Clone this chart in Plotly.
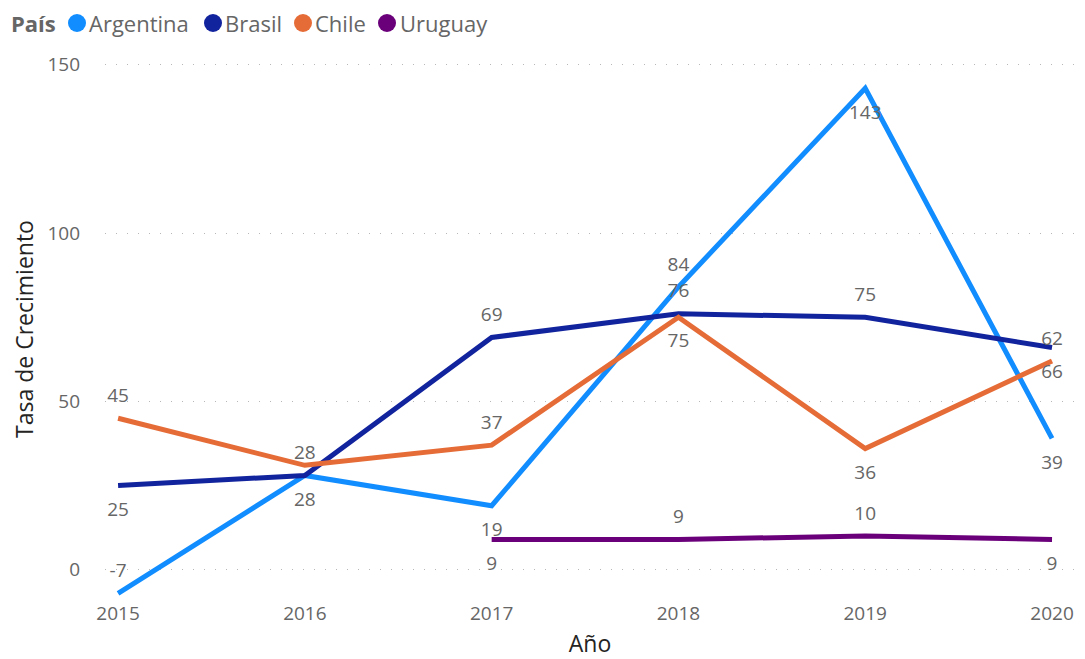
import plotly.graph_objects as go

years = [2015, 2016, 2017, 2018, 2019, 2020]
years_uy = [2017, 2018, 2019, 2020]

argentina = [-7, 28, 19, 84, 143, 39]
brasil = [25, 28, 69, 76, 75, 66]
chile = [45, 31, 37, 75, 36, 62]
uruguay = [9, 9, 10, 9]

arg_text = ["-7", "28", "19", "84", "143", "39"]
bra_text = ["25", "28", "69", "76", "75", "66"]
chi_text = ["45", "", "37", "75", "36", "62"]
uru_text = ["9", "9", "10", "9"]

arg_pos = ["top center", "bottom center", "bottom center", "top center", "bottom center", "bottom center"]
bra_pos = ["bottom center", "top center", "top center", "top center", "top center", "bottom center"]
chi_pos = ["top center", "top center", "top center", "bottom center", "bottom center", "top center"]
uru_pos = ["bottom center", "top center", "top center", "bottom center"]

countries = ["Argentina", "Brasil", "Chile", "Uruguay"]
colors = {"Argentina": "#118DFF", "Brasil": "#12239E", "Chile": "#E66C37", "Uruguay": "#6B007B"}

series = [
    ("Argentina", years, argentina, arg_text, arg_pos),
    ("Brasil", years, brasil, bra_text, bra_pos),
    ("Chile", years, chile, chi_text, chi_pos),
    ("Uruguay", years_uy, uruguay, uru_text, uru_pos),
]

FONT = "Open Sans, Noto Sans, sans-serif"

OFF = 8
W, H = 1085 - OFF, 659 - OFF
ML, MR, MT, MB = 97, 10, 50, 59
PW, PH = W - ML - MR, H - MT - MB


def px_x(x):
    return (x - OFF - ML) / PW


def px_y(y):
    return (H - MB - (y - OFF)) / PH


fig = go.Figure()
for name, xs, ys, tx, ps in series:
    fig.add_trace(go.Scatter(
        x=xs, y=ys, mode="lines", name=name, showlegend=False,
        line=dict(color=colors[name], width=5),
        hoverinfo="skip",
    ))
for name, xs, ys, tx, ps in series:
    sizes = [17 if p.startswith("top") else 24 for p in ps]
    fig.add_trace(go.Scatter(
        x=xs, y=ys, mode="markers+text", name=name, showlegend=False,
        text=tx, textposition=ps,
        marker=dict(size=sizes, color="rgba(0,0,0,0)", opacity=0,
                    line=dict(width=0, color="rgba(0,0,0,0)")),
        textfont=dict(family=FONT, size=19, color="#666666"),
        hoverinfo="skip",
    ))

# legend (Power BI style)
legend_y = 23
circle_cx = [77, 213, 303, 387]
text_x = [89, 225, 315, 400]
annotations = [dict(text="<b>País</b>", xref="paper", yref="paper", x=px_x(9), y=px_y(legend_y),
                    xanchor="left", yanchor="middle", showarrow=False,
                    font=dict(family=FONT, size=22, color="#666666"))]
shapes = []
for name, cx, tx in zip(countries, circle_cx, text_x):
    annotations.append(dict(text=name, xref="paper", yref="paper", x=px_x(tx - 2), y=px_y(legend_y),
                            xanchor="left", yanchor="middle", showarrow=False,
                            font=dict(family=FONT, size=22, color="#666666")))
    shapes.append(dict(type="circle", xref="paper", yref="paper",
                       xsizemode="pixel", ysizemode="pixel",
                       xanchor=px_x(cx), yanchor=px_y(legend_y),
                       x0=-9, x1=9, y0=-9, y1=9,
                       fillcolor=colors[name], line=dict(width=0)))

shapes.append(dict(type="line", xref="paper", yref="paper", x0=px_x(1081), x1=px_x(1081),
                   y0=px_y(700), y1=px_y(0), line=dict(color="#dddddd", width=1)))

fig.update_layout(
    width=W, height=H,
    margin=dict(l=ML, r=MR, t=MT, b=MB, autoexpand=False),
    paper_bgcolor="white", plot_bgcolor="white",
    font=dict(family=FONT, color="#666666"),
    showlegend=False,
    annotations=annotations,
    shapes=shapes,
    xaxis=dict(
        range=[2014.93, 2020.123], tickmode="array", tickvals=years,
        ticktext=[str(y) for y in years], showgrid=False, zeroline=False,
        tickfont=dict(size=19, color="#666666"),
        title=dict(text="Año", font=dict(size=23, color="#252423"), standoff=17),
        showline=False, automargin=False,
    ),
    yaxis=dict(
        range=[-9, 152], tickvals=[0, 50, 100, 150],
        showgrid=True, gridcolor="#b8b8b8", griddash="1px,10px", gridwidth=1,
        zeroline=False, showline=False, automargin=False,
        tickfont=dict(size=19, color="#666666"),
        ticklabelstandoff=24,
        title=dict(text="Tasa de Crecimiento", font=dict(size=23, color="#252423"), standoff=15),
    ),
)

fig.write_html("out.html")
